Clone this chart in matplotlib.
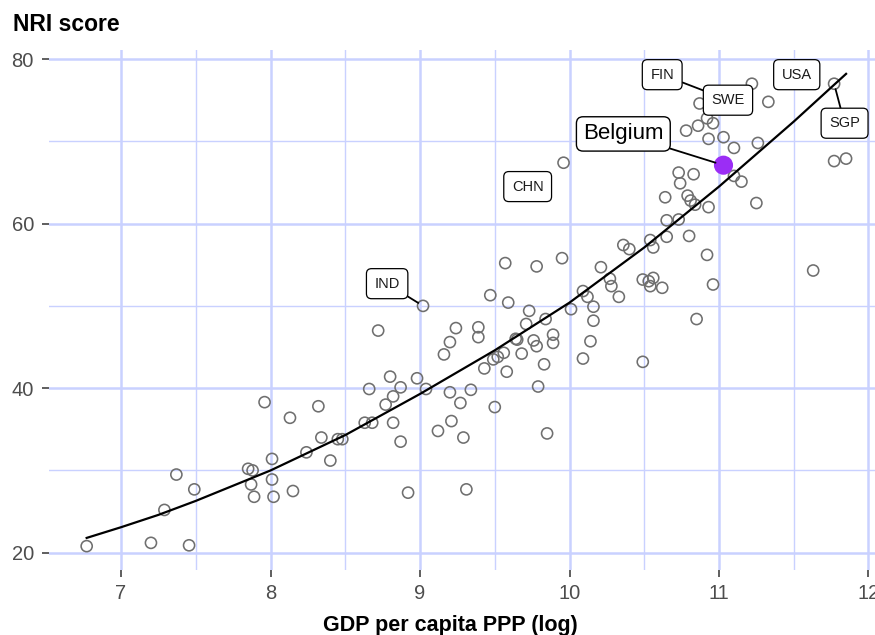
import matplotlib
matplotlib.use("Agg")
import matplotlib.pyplot as plt
from matplotlib.ticker import MultipleLocator

plt.rcParams['font.family'] = ['Liberation Sans', 'DejaVu Sans']

# ---- data ----
gdp_log = [
    6.77, 7.20, 7.455, 7.37, 7.49, 7.29, 7.85, 7.88, 7.87, 7.89, 8.01, 8.01, 8.02,
    8.15, 8.13, 7.96, 8.24,
    9.02, 8.72, 8.32, 8.66, 8.80, 8.87, 8.82, 8.77, 8.98, 9.04, 8.63, 8.68, 8.82,
    8.87, 8.34, 8.45, 8.48, 8.40, 8.92, 9.31, 9.12, 9.21, 9.29, 9.20, 9.27, 9.34,
    9.50, 9.16, 9.20, 9.24, 9.39, 9.39, 9.43, 9.52, 9.56, 9.58, 9.68, 9.64, 9.65,
    9.76, 9.78, 9.83, 9.79, 9.73, 9.71, 9.84, 9.59, 9.47, 9.57, 9.78, 9.85, 9.49,
    9.89, 9.89,
    9.96, 10.73, 10.83, 10.74, 10.64, 10.79, 10.81, 10.84, 10.93, 10.65, 10.73,
    10.65, 10.80, 10.54, 10.56, 10.36, 10.40, 10.92, 10.96, 10.85, 10.49, 10.53,
    10.56, 10.54, 10.62, 10.21, 10.27, 10.28, 10.33, 10.09, 10.12, 10.16, 10.16,
    10.01, 10.14, 10.09, 10.49, 9.95,
    11.22, 11.33, 11.77, 10.87, 10.92, 10.96, 10.86, 10.78, 10.93, 11.03, 11.10,
    11.26, 11.77, 11.85, 11.10, 11.15, 11.25, 11.63,
]
nri_score = [
    20.8, 21.2, 20.9, 29.5, 27.7, 25.2, 30.2, 30.0, 28.3, 26.8, 31.4, 28.9, 26.8,
    27.5, 36.4, 38.3, 32.2,
    50.0, 47.0, 37.8, 39.9, 41.4, 40.1, 39.0, 38.0, 41.2, 39.9, 35.8, 35.8, 35.8,
    33.5, 34.0, 33.8, 33.8, 31.2, 27.3, 27.7, 34.8, 36.0, 34.0, 39.5, 38.2, 39.8,
    37.7, 44.1, 45.6, 47.3, 47.4, 46.2, 42.4, 43.8, 44.3, 42.0, 44.2, 46.0, 45.9,
    45.8, 45.1, 42.9, 40.2, 49.4, 47.8, 48.4, 50.4, 51.3, 55.2, 54.8, 34.5, 43.5,
    46.5, 45.5,
    67.4, 66.2, 66.0, 64.9, 63.2, 63.4, 62.8, 62.3, 62.0, 60.4, 60.5,
    58.4, 58.5, 58.0, 57.1, 57.4, 56.9, 56.2, 52.6, 48.4, 53.2, 53.0,
    53.4, 52.4, 52.2, 54.7, 53.3, 52.4, 51.1, 51.8, 51.1, 49.9, 48.2,
    49.6, 45.7, 43.6, 43.2, 55.8,
    77.0, 74.8, 77.0, 74.6, 72.8, 72.2, 71.9, 71.3, 70.3, 70.5, 69.2,
    69.8, 67.6, 67.9, 65.8, 65.1, 62.5, 54.3,
]

highlight_name = "Belgium"
highlight_gdp = 11.03
highlight_nri = 67.1

# smoothed trend
trend_gdp = [6.77, 7.0, 7.25, 7.5, 8.0, 8.5, 9.0, 9.5, 10.0, 10.5, 11.0, 11.5, 11.85]
trend_nri = [21.8, 23.1, 24.6, 26.3, 30.0, 34.3, 39.3, 44.6, 50.4, 57.1, 64.5, 72.4, 78.2]

# labelled countries: code, point (x, y)
label_codes = ["IND", "CHN", "FIN", "SWE", "USA", "SGP"]
label_pt_gdp = [9.02, 9.72, 10.95, 11.0, 11.45, 11.77]
label_pt_nri = [50.0, 64.5, 75.8, 75.2, 77.8, 77.0]

x_ticks = [7, 8, 9, 10, 11, 12]
y_ticks = [20, 40, 60, 80]

# ---- layout / style ----
label_text_pos = {
    "IND": (8.78, 52.7), "CHN": (9.72, 64.5), "FIN": (10.62, 78.1),
    "SWE": (11.06, 75.0), "USA": (11.52, 78.1), "SGP": (11.84, 72.2),
}
label_segment = {"IND": True, "CHN": False, "FIN": True, "SWE": False,
                 "USA": False, "SGP": True}
grid_col = "#c9d1ff"

fig = plt.figure(figsize=(8.75, 6.35), dpi=100)
ax = fig.add_axes([49 / 875, 65 / 635, (883 - 49) / 875, (570 - 50) / 635])
ax.set_xlim(6.518, 12.097)
ax.set_ylim(17.9, 81.1)

ax.xaxis.set_minor_locator(MultipleLocator(0.5))
ax.yaxis.set_minor_locator(MultipleLocator(10))
ax.set_xticks(x_ticks)
ax.set_yticks(y_ticks)
ax.grid(which='major', color=grid_col, linewidth=1.8, zorder=0)
ax.grid(which='minor', color=grid_col, linewidth=1.0, zorder=0)
ax.set_axisbelow(True)
for s in ax.spines.values():
    s.set_visible(False)
ax.tick_params(which='major', length=4.8, width=1.1, color='#333333',
               labelsize=14.5, labelcolor='#4d4d4d')
ax.tick_params(axis='x', which='major', pad=5.0)
ax.tick_params(axis='y', which='major', pad=6.0)
ax.tick_params(which='minor', length=0)

ax.scatter(gdp_log, nri_score, s=64, facecolors='none', edgecolors='#6f6f6f',
           linewidths=1.15, zorder=3)
ax.plot(trend_gdp, trend_nri, color='black', linewidth=1.6, zorder=4,
        solid_joinstyle='round')

ax.scatter([highlight_gdp], [highlight_nri], s=190, color='#9b2df5',
           edgecolors='none', zorder=5)
ax.annotate(highlight_name, xy=(highlight_gdp, highlight_nri),
            xytext=(10.36, 70.9), fontsize=16, ha='center', va='center',
            color='black',
            bbox=dict(boxstyle='round,pad=0.3,rounding_size=0.3',
                      fc='white', ec='black', lw=1.0),
            arrowprops=dict(arrowstyle='-', color='black', lw=1.3,
                            shrinkA=0, shrinkB=6),
            zorder=6)

for i, code in enumerate(label_codes):
    tx, ty = label_text_pos[code]
    kw = {}
    if label_segment[code]:
        kw['arrowprops'] = dict(arrowstyle='-', color='black', lw=1.3,
                                shrinkA=0, shrinkB=4)
    ax.annotate(code, xy=(label_pt_gdp[i], label_pt_nri[i]), xytext=(tx, ty),
                fontsize=10.5, ha='center', va='center', color='#1a1a1a',
                bbox=dict(boxstyle='round,pad=0.55,rounding_size=0.35',
                          fc='white', ec='black', lw=0.9),
                zorder=7 + i, **kw)

fig.text(13 / 875, 1 - 31 / 635, "NRI score", fontsize=16.5,
         fontweight='bold', ha='left', va='baseline')
fig.text(450 / 875, 1 - 631 / 635, "GDP per capita PPP (log)", fontsize=15.5,
         fontweight='bold', ha='center', va='baseline')

fig.savefig("out.png", dpi=100)
